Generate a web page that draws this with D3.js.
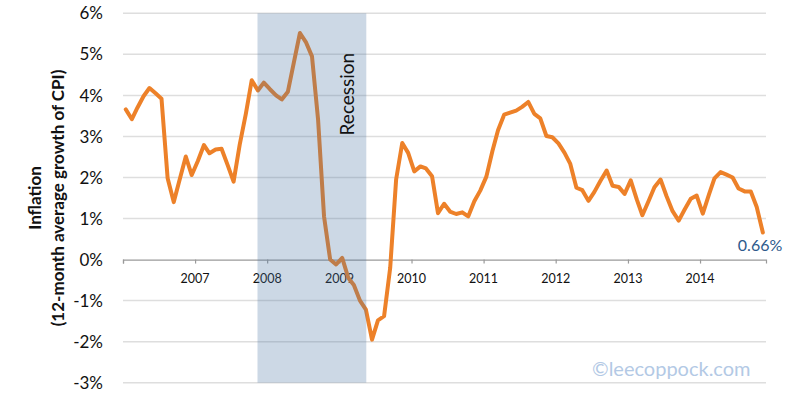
<!DOCTYPE html>
<html>
<head>
<meta charset="utf-8">
<script src="https://cdn.jsdelivr.net/npm/d3@7"></script>
<style>
  body { margin: 0; background: #fff; }
  text { font-family: Lato, "Open Sans", sans-serif; }
</style>
</head>
<body>
<div id="chart"></div>
<script>
// monthly inflation (12-month avg growth of CPI), Jan 2006 .. Nov 2014
const startMonth = "2006-01";
const inflation = [
  3.66, 3.42, 3.70, 3.98, 4.18, 4.05, 3.92, 1.98, 1.40, 1.95, 2.51, 2.06,   // 2006
  2.40, 2.79, 2.59, 2.68, 2.70, 2.30, 1.90, 2.80, 3.55, 4.37, 4.12, 4.31,   // 2007
  4.15, 4.00, 3.90, 4.09, 4.80, 5.52, 5.30, 4.95, 3.40, 1.05, 0.00, -0.12,  // 2008
  0.04, -0.45, -0.62, -1.00, -1.22, -1.95, -1.48, -1.38, -0.20, 1.95, 2.84, 2.60, // 2009
  2.15, 2.27, 2.22, 2.03, 1.13, 1.36, 1.17, 1.11, 1.15, 1.05, 1.42, 1.68,   // 2010
  2.02, 2.65, 3.15, 3.53, 3.58, 3.63, 3.72, 3.84, 3.55, 3.44, 3.01, 2.98,   // 2011
  2.83, 2.60, 2.33, 1.75, 1.69, 1.43, 1.65, 1.92, 2.17, 1.80, 1.77, 1.60,   // 2012
  1.93, 1.46, 1.08, 1.42, 1.76, 1.95, 1.55, 1.18, 0.95, 1.22, 1.48, 1.56,   // 2013
  1.12, 1.58, 1.98, 2.13, 2.07, 2.00, 1.73, 1.66, 1.66, 1.28, 0.66          // 2014
];
const yTicks = [-3, -2, -1, 0, 1, 2, 3, 4, 5, 6];
const yearTicks = [2006, 2007, 2008, 2009, 2010, 2011, 2012, 2013, 2014];
const yearLabels = ["2007", "2008", "2009", "2010", "2011", "2012", "2013", "2014"];
const recession = ["2007-11-13", "2009-05-17"];
const lastLabel = "0.66%";

const margin = { top: 13.3, right: 34, bottom: 16.3, left: 123 };
const width = 800 - margin.left - margin.right;
const height = 399 - margin.top - margin.bottom;

const parseDay = d3.timeParse("%Y-%m-%d");
const first = d3.timeParse("%Y-%m")(startMonth);
const data = inflation.map(function (v, i) {
    const d = d3.timeMonth.offset(first, i);
    return { date: new Date(d.getFullYear(), d.getMonth(), 15), value: v };
});

const svg = d3.select("#chart")
    .append("svg")
    .attr("width", 800)
    .attr("height", 399)
    .append("g")
    .attr("transform", "translate(" + margin.left + "," + margin.top + ")");

const x = d3.scaleTime()
    .domain([new Date(2006, 0, 1), new Date(2014, 11, 1)])
    .range([0, width]);
const y = d3.scaleLinear()
    .domain([-3, 6])
    .range([height, 0]);

// gridlines
svg.append("g")
    .selectAll("line")
    .data(yTicks.filter(function (t) { return t !== 0; }))
    .enter()
    .append("line")
    .attr("x1", 0)
    .attr("x2", width)
    .attr("y1", function (d) { return y(d); })
    .attr("y2", function (d) { return y(d); })
    .attr("stroke", "#dedede")
    .attr("stroke-width", 1.5);

// y labels
svg.append("g")
    .selectAll("text")
    .data(yTicks)
    .enter()
    .append("text")
    .attr("x", -20)
    .attr("y", function (d) { return y(d); })
    .attr("dy", "0.36em")
    .attr("text-anchor", "end")
    .style("font-size", "17px")
    .attr("fill", "#111")
    .text(function (d) { return d + "%"; });

// zero axis with year ticks
const xAxis = svg.append("g")
    .attr("transform", "translate(0," + y(0) + ")")
    .call(d3.axisBottom(x)
        .tickValues(yearTicks.map(function (yr) { return new Date(yr, 0, 1); }))
        .tickSize(4)
        .tickFormat(""));
xAxis.select(".domain").attr("stroke", "#9a9a9a").attr("stroke-width", 1.2);
xAxis.selectAll(".tick line").attr("stroke", "#9a9a9a").attr("stroke-width", 1.2);

svg.append("g")
    .selectAll("text")
    .data(yearLabels)
    .enter()
    .append("text")
    .attr("x", function (d) { return x(new Date(+d, 0, 1)); })
    .attr("y", y(0) + 23)
    .attr("text-anchor", "middle")
    .style("font-size", "12.5px")
    .attr("fill", "#111")
    .text(function (d) { return d; });

// inflation line
const line = d3.line()
    .x(function (d) { return x(d.date); })
    .y(function (d) { return y(d.value); });
svg.append("path")
    .datum(data)
    .attr("fill", "none")
    .attr("stroke", "#ed8129")
    .attr("stroke-width", 4)
    .attr("stroke-linejoin", "round")
    .attr("stroke-linecap", "round")
    .attr("d", line);

// recession band, drawn over the line
const r0 = x(parseDay(recession[0]));
const r1 = x(parseDay(recession[1]));
svg.append("rect")
    .attr("x", r0)
    .attr("y", 0)
    .attr("width", r1 - r0)
    .attr("height", height)
    .attr("fill", "rgb(72,115,160)")
    .attr("fill-opacity", 0.28);

svg.append("text")
    .attr("transform", "translate(" + (r1 - 12) + "," + (y(3) - 1) + ")rotate(-90)")
    .attr("text-anchor", "start")
    .style("font-size", "19px")
    .attr("fill", "#111")
    .text("Recession");

// last value label
const last = data[data.length - 1];
svg.append("text")
    .attr("x", x(last.date) - 25)
    .attr("y", y(last.value) + 19)
    .style("font-size", "16px")
    .attr("fill", "#2d5a8c")
    .text(lastLabel);

// y axis title
const title = svg.append("text")
    .attr("transform", "translate(" + (35 - margin.left) + "," + (198 - margin.top) + ")rotate(-90)")
    .attr("text-anchor", "middle")
    .style("font-size", "17px")
    .style("font-weight", "bold")
    .attr("fill", "#111");
title.append("tspan").attr("x", 0).attr("dy", "0.35em").text("Inflation");
title.append("tspan").attr("x", 0).attr("dy", "1.35em").text("(12-month average growth of CPI)");

// watermark
svg.append("text")
    .attr("x", 592 - margin.left)
    .attr("y", 376 - margin.top)
    .style("font-size", "20px")
    .attr("fill", "#b3c9e5")
    .text("\u00A9leecoppock.com");
</script>
</body>
</html>
